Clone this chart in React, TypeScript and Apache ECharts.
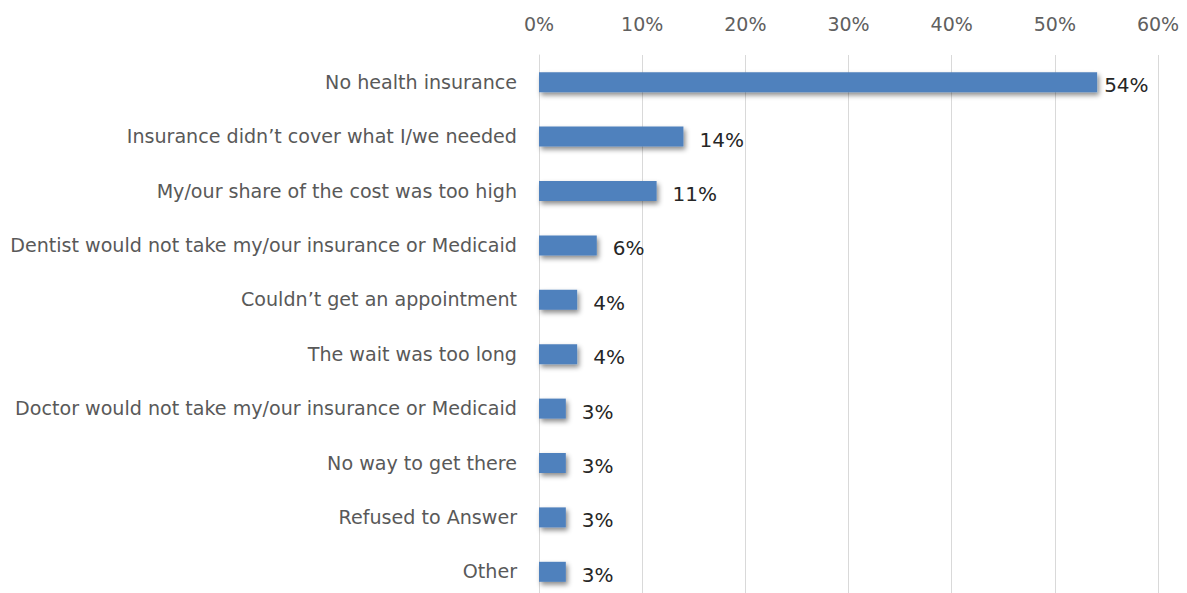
import React, { useEffect, useRef } from "react";
import * as echarts from "echarts";

const categories = [
  "No health insurance",
  "Insurance didn’t cover what I/we needed",
  "My/our share of the cost was too high",
  "Dentist would not take my/our insurance or Medicaid",
  "Couldn’t get an appointment",
  "The wait was too long",
  "Doctor would not take my/our insurance or Medicaid",
  "No way to get there",
  "Refused to Answer",
  "Other",
];
const values = [54.1, 14.0, 11.4, 5.6, 3.7, 3.7, 2.6, 2.6, 2.6, 2.6];
const labels = ["54%", "14%", "11%", "6%", "4%", "4%", "3%", "3%", "3%", "3%"];

const FONT = "'DejaVu Sans', sans-serif";

export default function App() {
  const ref = useRef<HTMLDivElement>(null);
  useEffect(() => {
    if (!ref.current) return;
    const chart = echarts.init(ref.current, null, { renderer: "svg" });
    chart.setOption({
      animation: false,
      backgroundColor: "#ffffff",
      grid: { left: 539, right: 29, top: 55, bottom: 1, containLabel: false },
      xAxis: {
        type: "value",
        position: "top",
        min: 0,
        max: 60,
        interval: 10,
        axisLine: { show: false },
        axisTick: { show: false },
        axisLabel: {
          formatter: "{value}%",
          color: "#606060",
          fontSize: 19,
          fontFamily: FONT,
          margin: 22,
        },
        splitLine: { lineStyle: { color: "#d9d9d9", width: 1 } },
      },
      yAxis: {
        type: "category",
        inverse: true,
        data: categories,
        axisLine: { show: true, lineStyle: { color: "#d9d9d9" } },
        axisTick: { show: false },
        axisLabel: {
          color: "#595959",
          fontSize: 19.1,
          fontFamily: FONT,
          margin: 22,
          offset: [0, -1],
        },
      },
      series: [
        {
          type: "bar",
          data: values.map((v, i) =>
            i === 0 ? { value: v, label: { distance: 7 } } : v
          ),
          barWidth: 20,
          itemStyle: {
            color: "#4f81bd",
            shadowColor: "rgba(0,0,0,0.45)",
            shadowBlur: 5,
            shadowOffsetX: 2,
            shadowOffsetY: 3,
          },
          label: {
            show: true,
            position: "right",
            distance: 16,
            offset: [0, 3],
            color: "#262626",
            fontSize: 20,
            fontFamily: FONT,
            formatter: (p: any) => labels[p.dataIndex],
          },
        },
      ],
    });
    return () => chart.dispose();
  }, []);
  return (
    <div
      ref={ref}
      style={{ position: "fixed", left: 0, top: 0, width: 1187, height: 600 }}
    />
  );
}
